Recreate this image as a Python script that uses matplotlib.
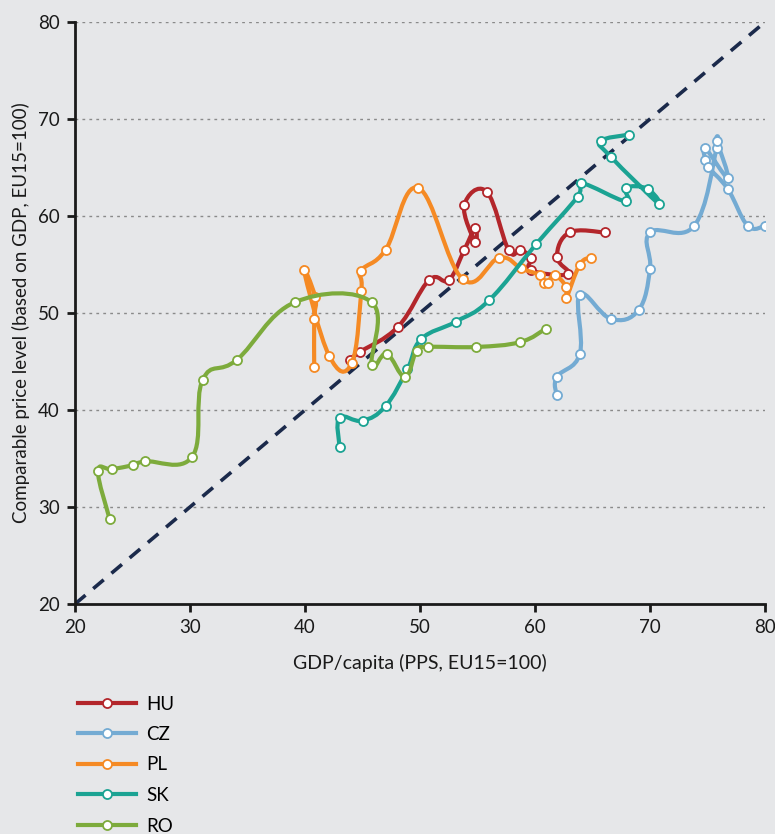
import numpy as np
import matplotlib.pyplot as plt
from matplotlib.path import Path
from matplotlib.patches import PathPatch
from matplotlib.lines import Line2D

plt.rcParams['font.family'] = ['Lato', 'DejaVu Sans']

# data: GDP/capita (x) vs comparable price level (y)
countries = ['HU', 'CZ', 'PL', 'SK', 'RO']
colors = ['#b3262b', '#74abd3', '#f58a24', '#1ba393', '#7dab3c']

hu_x = [43.9, 44.8, 48.1, 50.8, 52.5, 53.85, 54.8, 54.8, 53.85, 55.8, 57.7, 58.7, 59.65, 59.65, 62.9, 61.9, 63.0, 66.1]
hu_y = [45.2, 46.0, 48.6, 53.4, 53.4, 56.5, 58.8, 57.3, 61.1, 62.5, 56.5, 56.5, 55.7, 54.4, 54.0, 55.8, 58.3, 58.3]

cz_x = [61.9, 61.9, 63.9, 63.9, 66.6, 69.0, 70.0, 70.0, 73.85, 75.8, 75.8, 76.75, 74.8, 74.8, 75.0, 76.75, 78.5, 80.0]
cz_y = [41.5, 43.4, 45.8, 51.9, 49.4, 50.3, 54.5, 58.3, 59.0, 67.0, 67.7, 63.95, 67.0, 65.8, 65.1, 62.8, 59.0, 59.0]

pl_x = [40.8, 40.8, 40.9, 39.9, 42.1, 44.05, 44.9, 44.9, 47.0, 49.85, 53.7, 56.9, 58.8, 60.4, 60.8, 61.1, 61.7, 62.7, 62.7, 63.9, 64.9]
pl_y = [44.4, 49.35, 51.6, 54.4, 45.6, 44.8, 52.3, 54.35, 56.5, 62.9, 53.5, 55.7, 54.6, 53.9, 53.1, 53.1, 53.9, 52.7, 51.5, 55.0, 55.7]

sk_x = [43.0, 43.0, 45.0, 47.0, 48.9, 50.1, 53.1, 56.0, 60.1, 63.7, 64.0, 67.9, 67.9, 69.8, 70.8, 66.6, 65.7, 68.2]
sk_y = [36.2, 39.2, 38.9, 40.4, 44.2, 47.3, 49.1, 51.3, 57.1, 62.0, 63.4, 61.5, 62.9, 62.8, 61.2, 66.1, 67.7, 68.4]

ro_x = [23.0, 22.0, 23.2, 25.0, 26.1, 30.2, 31.1, 34.1, 39.1, 45.8, 45.8, 47.1, 48.7, 49.7, 50.7, 54.9, 58.7, 60.96]
ro_y = [28.8, 33.7, 33.9, 34.3, 34.7, 35.2, 43.1, 45.2, 51.1, 51.1, 44.6, 45.8, 43.4, 46.1, 46.5, 46.5, 47.0, 48.4]

series_x = [hu_x, cz_x, pl_x, sk_x, ro_x]
series_y = [hu_y, cz_y, pl_y, sk_y, ro_y]


def smooth_path(x, y, t=0.2):
    # smoothed line through the points (bezier segments, like a spreadsheet "smoothed line")
    p = np.column_stack([x, y])
    n = len(p)
    verts = [p[0]]
    codes = [Path.MOVETO]
    for i in range(n - 1):
        p0 = p[i - 1] if i > 0 else p[i]
        p3 = p[i + 2] if i + 2 < n else p[i + 1]
        c1 = p[i] + (p[i + 1] - p0) * t
        c2 = p[i + 1] - (p3 - p[i]) * t
        verts += [c1, c2, p[i + 1]]
        codes += [Path.CURVE4] * 3
    return Path(verts, codes)


bg = '#e6e7e9'
fig = plt.figure(figsize=(7.75, 8.34), dpi=100, facecolor=bg)
ax = fig.add_axes([75 / 775, 1 - 604 / 834, 690 / 775, 582 / 834], facecolor=bg)

ax.set_xlim(20, 80)
ax.set_ylim(20, 80)

for g in [30, 40, 50, 60, 70, 80]:
    ax.axhline(g, color='#8a8a8a', lw=1.0, ls=(0, (2, 3)), zorder=1)

ax.plot([20, 80], [20, 80], color='#1b2a4b', lw=2.6, ls=(0, (3.8, 2.8)), zorder=2)

handles = []
for k, (name, c) in enumerate(zip(countries, colors)):
    x, y = series_x[k], series_y[k]
    patch = PathPatch(smooth_path(x, y), facecolor='none', edgecolor=c, lw=3.0,
                      capstyle='round', joinstyle='round', zorder=3 + k)
    ax.add_patch(patch)
    ax.plot(x, y, 'o', ms=6.5, mfc='white', mec=c, mew=1.3, ls='none', zorder=3 + k)
    handles.append(Line2D([0], [0], color=c, lw=3.0, marker='o', ms=6.5,
                          mfc='white', mec=c, mew=1.3))

for s in ['top', 'right']:
    ax.spines[s].set_visible(False)
for s in ['left', 'bottom']:
    ax.spines[s].set_linewidth(2.0)
    ax.spines[s].set_color('#1a1a1a')

ax.set_xticks(range(20, 81, 10))
ax.set_yticks(range(20, 81, 10))
ax.tick_params(direction='out', length=6, width=2, colors='#1a1a1a', labelsize=13.5, pad=5)

ax.set_xlabel('GDP/capita (PPS, EU15=100)', fontsize=14, color='#1a1a1a', labelpad=13)
ax.set_ylabel('Comparable price level (based on GDP, EU15=100)', fontsize=13.5,
              color='#1a1a1a', labelpad=6)

fig.legend(handles, countries, loc='upper left', bbox_to_anchor=(70 / 775, 1 - 688 / 834),
           frameon=False, fontsize=13.5, handlelength=3.1, handletextpad=0.55,
           labelspacing=0.72, borderaxespad=0)

fig.savefig('out.png', dpi=100, facecolor=bg)
